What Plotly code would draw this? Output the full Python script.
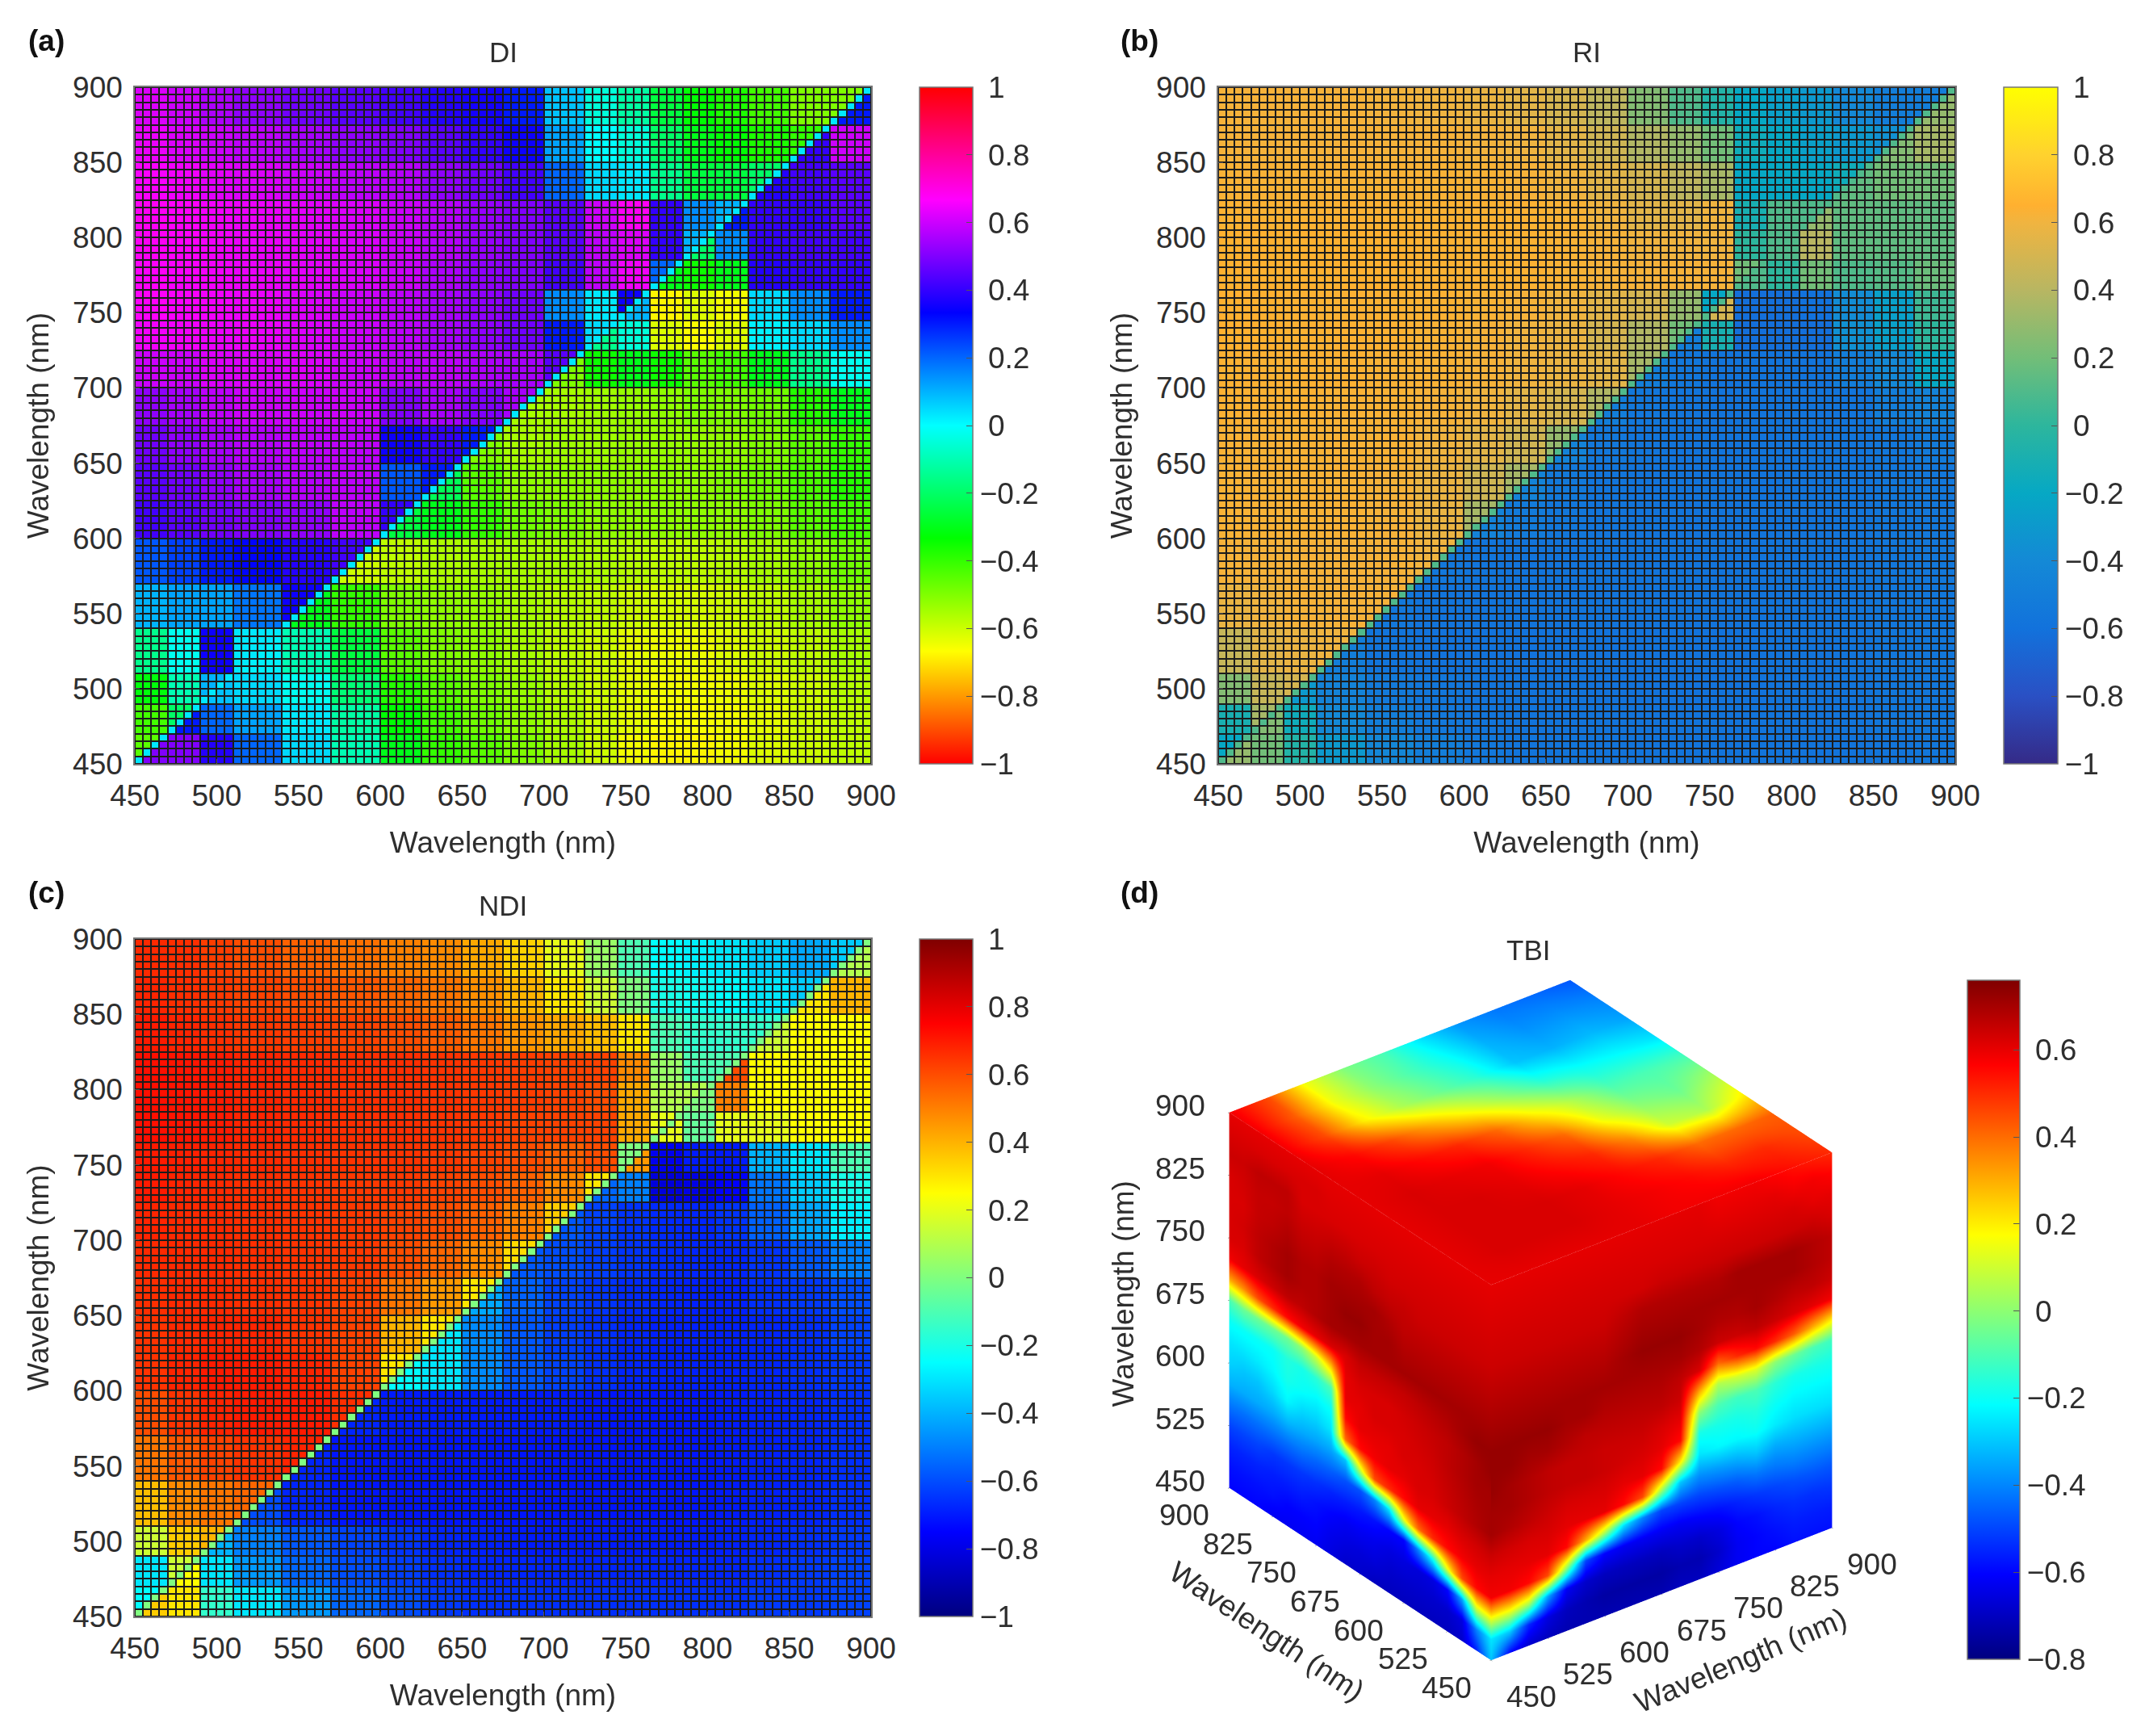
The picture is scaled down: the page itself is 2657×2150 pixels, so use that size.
import numpy as np
import plotly.graph_objects as go

W, H = 2657, 2150
FONT = "Liberation Sans"
INK = "#2e2e2e"
NB = "\u00a0"

EDGES = [450,470,490,510,540,570,600,625,650,675,700,725,745,765,785,805,825,850,875,900]
AXIS_TICKS = [450,500,550,600,650,700,750,800,850,900]
CB_TICKS = [-1,-0.8,-0.6,-0.4,-0.2,0,0.2,0.4,0.6,0.8,1]
CB_LABELS = ["\u22121","\u22120.8","\u22120.6","\u22120.4","\u22120.2",NB+"0",NB+"0.2",NB+"0.4",NB+"0.6",NB+"0.8",NB+"1"]
CUBE_TICKS = [450,525,600,675,750,825,900]
TBI_TICKS = [-0.8,-0.6,-0.4,-0.2,0,0.2,0.4,0.6]
TBI_LABELS = ["\u22120.8","\u22120.6","\u22120.4","\u22120.2",NB+"0",NB+"0.2",NB+"0.4",NB+"0.6"]

DI_DIAG = 0.03
DI_UPPER = [
 [-.45],
 [-.42,-.2],
 [-.32,-.1,.1],
 [-.15,-.02,.35,.03],
 [.1,.12,.12,.18,.35],
 [.22,.25,.3,.33,.38,.42],
 [.42,.45,.48,.5,.52,.58,.4],
 [.45,.48,.52,.55,.57,.58,.22,.3],
 [.48,.52,.55,.57,.58,.58,.35,.4,.3],
 [.52,.55,.58,.6,.6,.6,.5,.55,.5,.55],
 [.6,.6,.62,.62,.62,.6,.58,.58,.56,.55,.45],
 [.65,.65,.64,.64,.62,.6,.58,.55,.52,.48,.3,.05],
 [.67,.66,.65,.64,.62,.6,.58,.55,.52,.48,.15,.03,.35],
 [.67,.66,.65,.64,.63,.62,.6,.56,.52,.5,.42,.58,.65,.2],
 [.68,.67,.65,.64,.63,.62,.6,.57,.53,.5,.45,.58,.62,.4,.1],
 [.68,.67,.65,.64,.63,.62,.6,.57,.53,.5,.45,.6,.68,.4,.15,.1],
 [.66,.65,.63,.62,.6,.58,.57,.52,.48,.42,.2,.05,.03,-.15,-.25,-.25,-.2],
 [.64,.62,.6,.58,.55,.52,.5,.45,.4,.35,.12,.0,-.05,-.2,-.3,-.33,-.37,-.4],
 [.62,.6,.56,.52,.48,.45,.42,.38,.36,.3,.08,-.05,-.12,-.25,-.33,-.37,-.42,-.5,-.5],
]
DI_LOWER = [
 [.5,.5,.38,.2,.05,-.1,-.3,-.4,-.45,-.5,-.55,-.6,-.65,-.68,-.68,-.65,-.62,-.6,-.58],
 [.3,.2,.12,.03,-.12,-.33,-.42,-.48,-.52,-.56,-.6,-.63,-.66,-.66,-.65,-.63,-.6,-.58],
 [.08,.05,-.02,-.18,-.38,-.45,-.5,-.53,-.57,-.6,-.63,-.65,-.65,-.64,-.62,-.6,-.57],
 [.02,-.1,-.25,-.45,-.5,-.52,-.55,-.58,-.6,-.63,-.64,-.64,-.62,-.6,-.58,-.55],
 [-.3,-.4,-.5,-.52,-.53,-.55,-.57,-.58,-.6,-.61,-.61,-.6,-.58,-.55,-.52],
 [-.6,-.58,-.56,-.55,-.55,-.55,-.56,-.57,-.58,-.58,-.57,-.55,-.52,-.48],
 [-.25,-.3,-.4,-.48,-.5,-.52,-.52,-.52,-.52,-.52,-.5,-.45,-.42],
 [-.22,-.45,-.52,-.52,-.52,-.52,-.52,-.52,-.5,-.48,-.43,-.38],
 [-.5,-.55,-.54,-.54,-.53,-.53,-.53,-.52,-.5,-.45,-.4],
 [-.55,-.55,-.54,-.53,-.52,-.5,-.5,-.48,-.38,-.3],
 [-.5,-.35,-.3,-.35,-.45,-.42,-.3,-.15,-.02],
 [-.15,-.05,-.62,-.66,-.62,.02,.05,.15],
 [.1,-.68,-.62,-.65,.05,.15,.3],
 [-.3,-.35,-.3,.38,.4,.4],
 [-.2,.15,.4,.42,.42],
 [.3,.4,.4,.45],
 [.38,.42,.45],
 [.4,.6],
 [.3],
]

RI_DIAG = 0.1
RI_UPPER = [
 [-.2],
 [-.1,.35],
 [.25,.45,.5],
 [.45,.55,.58,.6],
 [.58,.6,.62,.62,.62],
 [.62,.62,.62,.62,.62,.6],
 [.63,.63,.63,.63,.62,.58,.35],
 [.63,.63,.63,.63,.62,.58,.48,.35],
 [.63,.63,.63,.63,.63,.6,.55,.48,.3],
 [.64,.64,.64,.63,.63,.62,.6,.55,.5,.38],
 [.64,.64,.64,.64,.63,.63,.62,.6,.58,.55,.35],
 [.65,.65,.64,.64,.64,.63,.62,.6,.58,.5,.38,.2],
 [.65,.65,.64,.64,.64,.64,.63,.62,.6,.55,.5,.3,-.2],
 [.65,.65,.65,.65,.65,.64,.64,.64,.63,.62,.62,.62,.62,.2],
 [.65,.65,.65,.65,.65,.64,.64,.64,.63,.62,.6,.6,.6,.0,.1],
 [.64,.64,.64,.64,.64,.64,.64,.64,.63,.6,.55,.55,.6,-.1,.1,.1],
 [.63,.63,.63,.63,.63,.63,.63,.62,.6,.55,.5,.42,.35,-.2,-.2,-.2,-.15],
 [.62,.62,.62,.62,.62,.62,.61,.6,.55,.48,.38,.3,.2,-.15,-.2,-.25,-.3,-.35],
 [.62,.62,.62,.62,.61,.6,.58,.55,.5,.42,.25,.1,-.05,-.2,-.25,-.3,-.4,-.5,-.5],
]
RI_LOWER = [
 [.3,.2,-.05,-.3,-.42,-.5,-.55,-.57,-.57,-.58,-.58,-.58,-.58,-.58,-.58,-.58,-.58,-.57,-.56],
 [.25,-.15,-.4,-.5,-.55,-.57,-.58,-.58,-.58,-.58,-.58,-.58,-.58,-.58,-.58,-.57,-.56,-.56],
 [-.3,-.45,-.53,-.56,-.58,-.58,-.58,-.59,-.59,-.59,-.59,-.59,-.58,-.58,-.57,-.56,-.56],
 [-.5,-.57,-.59,-.59,-.59,-.59,-.59,-.59,-.59,-.59,-.59,-.58,-.58,-.57,-.56,-.56],
 [-.55,-.58,-.58,-.58,-.58,-.58,-.58,-.58,-.58,-.58,-.58,-.58,-.57,-.56,-.56],
 [-.55,-.57,-.58,-.58,-.58,-.58,-.58,-.58,-.58,-.58,-.58,-.57,-.56,-.55],
 [-.45,-.52,-.56,-.57,-.58,-.58,-.58,-.58,-.58,-.58,-.57,-.56,-.55],
 [-.45,-.54,-.57,-.58,-.58,-.58,-.58,-.58,-.58,-.57,-.56,-.55],
 [-.45,-.55,-.57,-.58,-.58,-.58,-.58,-.58,-.57,-.56,-.52],
 [-.5,-.56,-.57,-.58,-.58,-.58,-.58,-.57,-.5,-.45],
 [-.5,-.56,-.58,-.58,-.58,-.58,-.5,-.4,-.2],
 [-.5,-.1,-.62,-.62,-.62,-.35,-.25,.0],
 [.5,-.62,-.62,-.6,-.38,-.25,.05],
 [.1,.0,.2,.1,.12,.18],
 [.1,.4,.15,.15,.15],
 [.3,.15,.15,.15],
 [.15,.2,.2],
 [.25,.35],
 [.3],
]

NDI_DIAG = 0.0
NDI_UPPER = [
 [-.25],
 [-.3,.15],
 [.15,.35,.4],
 [.38,.48,.52,.55],
 [.52,.58,.62,.65,.68],
 [.6,.65,.68,.7,.7,.66],
 [.65,.68,.7,.7,.68,.62,.3],
 [.65,.67,.68,.68,.65,.62,.4,.3],
 [.66,.67,.67,.66,.65,.62,.52,.45,.3],
 [.67,.67,.67,.66,.65,.64,.6,.55,.48,.32],
 [.68,.67,.67,.66,.65,.64,.62,.6,.56,.5,.35],
 [.7,.68,.67,.66,.65,.64,.64,.62,.6,.56,.48,.3],
 [.7,.69,.68,.67,.66,.65,.65,.64,.62,.6,.56,.6,.0],
 [.72,.71,.7,.68,.67,.66,.66,.65,.64,.62,.62,.62,.42,.2],
 [.72,.71,.7,.68,.67,.66,.66,.65,.64,.63,.62,.6,.42,.1,.1],
 [.72,.71,.7,.68,.67,.66,.66,.65,.64,.63,.62,.62,.48,.05,-.1,-.1],
 [.7,.68,.66,.64,.63,.62,.6,.57,.52,.46,.42,.38,.3,-.1,-.15,-.15,-.15],
 [.68,.66,.64,.62,.6,.58,.55,.52,.47,.4,.3,.15,.0,-.2,-.22,-.25,-.3,-.35],
 [.67,.66,.63,.6,.56,.53,.5,.48,.42,.34,.2,.05,-.1,-.25,-.28,-.3,-.35,-.42,-.35],
]
NDI_LOWER = [
 [.35,.3,-.15,-.3,-.45,-.55,-.6,-.64,-.66,-.66,-.66,-.66,-.66,-.66,-.66,-.66,-.64,-.64,-.62],
 [.25,-.3,-.45,-.55,-.6,-.63,-.66,-.68,-.68,-.68,-.68,-.68,-.68,-.68,-.68,-.66,-.64,-.62],
 [-.4,-.5,-.58,-.62,-.65,-.68,-.69,-.7,-.7,-.7,-.7,-.7,-.7,-.69,-.68,-.66,-.64],
 [-.6,-.68,-.71,-.71,-.71,-.71,-.71,-.71,-.71,-.71,-.71,-.71,-.7,-.69,-.68,-.66],
 [-.68,-.71,-.71,-.71,-.71,-.71,-.71,-.71,-.71,-.71,-.71,-.7,-.69,-.68,-.66],
 [-.68,-.7,-.7,-.7,-.7,-.7,-.71,-.71,-.71,-.71,-.7,-.69,-.68,-.66],
 [-.25,-.3,-.48,-.58,-.62,-.66,-.68,-.69,-.69,-.69,-.68,-.66,-.64],
 [-.3,-.48,-.58,-.63,-.66,-.68,-.69,-.69,-.69,-.68,-.66,-.62],
 [-.42,-.56,-.62,-.65,-.67,-.68,-.69,-.69,-.66,-.64,-.6],
 [-.58,-.6,-.63,-.65,-.67,-.68,-.68,-.65,-.58,-.5],
 [-.58,-.62,-.65,-.67,-.68,-.65,-.56,-.42,-.28],
 [-.55,-.5,-.82,-.8,-.75,-.52,-.35,-.2],
 [.45,-.78,-.7,-.7,-.4,-.3,-.1],
 [.2,-.05,.2,.2,.25,.25],
 [.0,.5,.25,.25,.25],
 [.6,.25,.25,.25],
 [.15,.25,.25],
 [.3,.4],
 [.1],
]

# TBI cube faces
CUBE_NODES = [450,475,500,525,550,575,600,625,650,675,700,725,750,775,800,825,850,875,900]
TOP_NODES = [450,500,550,600,650,700,750,800,850,900]
TBI_LEFT = [
 [-.3,-.55,-.68,-.7,-.7,-.7,-.7,-.7,-.7,-.68,-.68,-.65,-.62,-.62,-.62,-.62,-.6,-.6,-.6],
 [-.25,-.4,-.65,-.68,-.68,-.68,-.68,-.68,-.66,-.66,-.65,-.63,-.6,-.6,-.6,-.58,-.58,-.58,-.58],
 [.15,.1,-.35,-.6,-.65,-.66,-.65,-.65,-.63,-.62,-.62,-.6,-.58,-.56,-.56,-.56,-.55,-.55,-.55],
 [.58,.55,.45,.15,-.2,-.4,-.6,-.6,-.58,-.57,-.56,-.55,-.53,-.52,-.52,-.52,-.5,-.5,-.5],
 [.6,.6,.58,.55,.5,.4,.15,-.25,-.4,-.48,-.48,-.46,-.45,-.43,-.43,-.43,-.43,-.43,-.42],
 [.64,.63,.62,.6,.6,.6,.55,.5,.45,.1,-.3,-.35,-.35,-.34,-.32,-.34,-.34,-.34,-.33],
 [.7,.68,.66,.64,.62,.62,.6,.6,.58,.55,.4,-.25,-.28,-.27,-.22,-.27,-.3,-.3,-.28],
 [.7,.69,.67,.65,.63,.62,.62,.6,.6,.6,.55,-.2,-.22,-.2,-.18,-.22,-.24,-.25,-.25],
 [.7,.7,.68,.66,.64,.63,.62,.62,.62,.6,.6,-.1,-.15,-.18,-.16,-.2,-.2,-.2,-.2],
 [.72,.7,.68,.66,.65,.64,.63,.62,.62,.62,.6,.25,.1,.0,-.05,-.05,-.05,-.05,-.1],
 [.72,.72,.7,.68,.67,.66,.65,.65,.65,.65,.62,.62,.6,.58,.55,.5,.45,.35,.3],
 [.7,.7,.7,.7,.7,.7,.7,.7,.7,.7,.7,.7,.68,.66,.66,.64,.62,.6,.58],
 [.68,.68,.68,.68,.68,.68,.68,.7,.7,.72,.72,.7,.68,.68,.7,.68,.66,.62,.62],
 [.66,.66,.66,.66,.66,.66,.66,.68,.7,.7,.7,.7,.68,.68,.7,.68,.66,.63,.62],
 [.64,.64,.64,.64,.64,.64,.65,.65,.66,.68,.68,.68,.66,.66,.68,.66,.65,.62,.62],
 [.63,.63,.63,.63,.63,.63,.63,.63,.64,.64,.65,.65,.64,.64,.66,.65,.65,.63,.62],
 [.62,.62,.62,.62,.62,.62,.62,.62,.62,.62,.62,.62,.62,.62,.66,.66,.66,.64,.64],
 [.61,.61,.61,.61,.61,.61,.61,.61,.61,.61,.61,.61,.62,.62,.62,.62,.62,.62,.62],
 [.6,.6,.6,.6,.6,.6,.6,.6,.6,.6,.6,.6,.6,.6,.6,.6,.6,.6,.6],
]
TBI_RIGHT = [
 [-.3,-.6,-.68,-.7,-.72,-.72,-.72,-.72,-.72,-.72,-.7,-.7,-.66,-.62,-.6,-.6,-.58,-.58,-.58],
 [-.25,-.3,-.55,-.65,-.7,-.72,-.74,-.74,-.74,-.74,-.72,-.72,-.68,-.62,-.6,-.58,-.56,-.56,-.56],
 [.15,.15,.05,-.35,-.62,-.68,-.7,-.7,-.7,-.7,-.68,-.68,-.65,-.6,-.58,-.55,-.53,-.53,-.52],
 [.58,.58,.55,.45,.0,-.5,-.6,-.62,-.62,-.62,-.62,-.6,-.58,-.55,-.52,-.5,-.48,-.47,-.47],
 [.6,.6,.6,.6,.55,.3,.05,-.25,-.4,-.5,-.5,-.5,-.48,-.46,-.42,-.42,-.4,-.4,-.4],
 [.64,.63,.62,.62,.6,.6,.6,.55,.45,.05,-.3,-.38,-.36,-.34,-.3,-.34,-.33,-.33,-.33],
 [.7,.68,.66,.64,.62,.62,.62,.6,.6,.55,.2,-.25,-.22,-.22,-.2,-.24,-.26,-.26,-.26],
 [.7,.7,.68,.66,.65,.65,.64,.63,.62,.6,.55,-.18,-.18,-.18,-.16,-.2,-.22,-.22,-.22],
 [.72,.7,.68,.66,.65,.65,.64,.64,.64,.62,.6,.0,-.1,-.12,-.1,-.15,-.18,-.18,-.18],
 [.72,.72,.7,.7,.68,.66,.66,.66,.66,.66,.64,.3,.05,.1,.12,.0,-.05,-.1,-.12],
 [.72,.72,.72,.72,.7,.7,.68,.68,.68,.68,.66,.62,.4,.5,.55,.5,.42,.3,.2],
 [.7,.7,.7,.7,.7,.7,.7,.7,.7,.7,.7,.68,.64,.64,.66,.64,.62,.6,.58],
 [.68,.68,.68,.68,.68,.68,.68,.7,.72,.72,.72,.7,.68,.68,.7,.68,.66,.66,.64],
 [.66,.66,.66,.66,.66,.66,.66,.68,.7,.7,.7,.7,.7,.7,.7,.7,.7,.68,.66],
 [.64,.64,.64,.64,.64,.64,.64,.66,.68,.68,.68,.68,.68,.7,.7,.7,.7,.68,.66],
 [.63,.63,.63,.63,.63,.63,.63,.63,.63,.64,.64,.64,.64,.64,.64,.64,.64,.64,.62],
 [.62,.62,.62,.62,.62,.62,.62,.62,.62,.62,.62,.62,.62,.62,.62,.62,.62,.6,.6],
 [.61,.61,.61,.61,.61,.61,.61,.61,.61,.61,.61,.61,.6,.6,.6,.6,.58,.58,.56],
 [.6,.6,.6,.6,.6,.6,.6,.6,.6,.6,.6,.6,.58,.58,.58,.56,.54,.52,.5],
]
TBI_TOP = [
 [.6,.6,.6,.6,.6,.58,.58,.58,.54,.5],
 [.6,.62,.62,.62,.6,.58,.55,.5,.5,.45],
 [.6,.62,.62,.62,.6,.55,.5,.4,.4,.42],
 [.6,.62,.62,.6,.55,.5,.35,.1,.05,.2],
 [.6,.62,.6,.58,.5,.4,.15,.0,-.05,.05],
 [.6,.6,.55,.5,.4,.2,.05,-.1,-.1,-.1],
 [.6,.55,.45,.3,.15,.0,-.15,-.2,-.22,-.25],
 [.58,.45,.2,.05,-.05,-.15,-.3,-.33,-.32,-.35],
 [.58,.42,.15,.0,-.1,-.2,-.33,-.38,-.38,-.4],
 [.58,.45,.15,-.02,-.1,-.25,-.37,-.42,-.44,-.47],
]

HSV = [[0,"#ff0000"],[1/6,"#ffff00"],[1/3,"#00ff00"],[.5,"#00ffff"],[2/3,"#0000ff"],[5/6,"#ff00ff"],[1,"#ff0000"]]
PARULA = [[0,"#352A87"],[.1,"#2A50C4"],[.2,"#1272DC"],[.3,"#1489D6"],[.4,"#06A8C4"],[.5,"#2DB69D"],[.6,"#72BE78"],
          [.7,"#B8B662"],[.8,"#F0B440"],[.825,"#FFB030"],[.9,"#FFD22E"],[1,"#FFFF00"]]
JET = [[0,"#00007F"],[.125,"#0000FF"],[.375,"#00FFFF"],[.625,"#FFFF00"],[.875,"#FF0000"],[1,"#7F0000"]]

def fx(p): return p / W
def fy(p): return 1 - p / H

def assemble(upper, lower, diag):
    centers = [452.5 + 5 * k for k in range(90)]
    idx = [int(np.searchsorted(EDGES, c, side="right")) - 1 for c in centers]
    z = []
    for j in range(90):
        row = []
        for i in range(90):
            if i == j:
                row.append(diag)
            elif i < j:
                row.append(upper[idx[j]][idx[i]])
            else:
                row.append(lower[idx[j]][idx[i] - idx[j]])
        z.append(row)
    return centers, z

FS = 37
fig = go.Figure()
panels = [
 ("", "", 167, 1079, 108, 946, 1139, 1205, DI_UPPER, DI_LOWER, DI_DIAG, HSV),
 ("2", "2", 1509, 2422, 108, 946, 2482, 2549, RI_UPPER, RI_LOWER, RI_DIAG, PARULA),
 ("3", "3", 167, 1079, 1163, 2002, 1139, 1205, NDI_UPPER, NDI_LOWER, NDI_DIAG, JET),
]
layout = {}
for sx, sy, x0, x1, y0, y1, c0, c1, up, lo_, dg, cs in panels:
    cen, z = assemble(up, lo_, dg)
    fig.add_trace(go.Heatmap(
        x=cen, y=cen, z=z, zmin=-1, zmax=1, colorscale=cs, xgap=2, ygap=2,
        xaxis="x" + sx, yaxis="y" + sy, hoverinfo="skip",
        colorbar=dict(x=fx(c0), xanchor="left", xref="paper", y=fy(y1), yanchor="bottom", yref="paper",
                      lenmode="fraction", len=(y1 - y0) / H, thicknessmode="pixels", thickness=c1 - c0,
                      xpad=0, ypad=0, outlinecolor="#777", outlinewidth=1.5, tickvals=CB_TICKS, ticktext=CB_LABELS,
                      ticks="inside", ticklen=8, tickcolor="#555", tickfont=dict(family=FONT, size=FS, color=INK)),
    ))
    ax = dict(range=[450, 900], tickvals=AXIS_TICKS, ticks="inside", ticklen=6, tickcolor="#555",
              showgrid=False, zeroline=False, showline=True, linecolor="#777", linewidth=1.5, mirror=True,
              tickfont=dict(family=FONT, size=FS, color=INK), ticklabelstandoff=6,
              title=dict(text="Wavelength (nm)", font=dict(family=FONT, size=FS, color=INK)))
    layout["xaxis" + sx] = dict(ax, domain=[fx(x0), fx(x1)], anchor="y" + sy)
    layout["xaxis" + sx]["title"] = dict(ax["title"], standoff=25)
    layout["yaxis" + sy] = dict(ax, domain=[fy(y1), fy(y0)], anchor="x" + sx)
    layout["yaxis" + sy]["title"] = dict(ax["title"], standoff=18)

# TBI cube: three visible faces
lo, hi = CUBE_NODES[0], CUBE_NODES[-1]
surf = dict(cmin=-0.8, cmax=0.76, colorscale=JET, hoverinfo="skip",
            lighting=dict(ambient=1, diffuse=0, specular=0, roughness=1, fresnel=0),
            scene="scene")
Yg, Zg = np.meshgrid(CUBE_NODES, CUBE_NODES)
fig.add_trace(go.Surface(x=np.full(Yg.shape, lo), y=Yg, z=Zg, surfacecolor=TBI_LEFT, showscale=True,
    colorbar=dict(x=fx(2437), xanchor="left", xref="paper", y=fy(2055), yanchor="bottom", yref="paper",
                  lenmode="fraction", len=(2055 - 1214) / H, thicknessmode="pixels", thickness=65,
                  xpad=0, ypad=0, outlinecolor="#777", outlinewidth=1.5, tickvals=TBI_TICKS, ticktext=TBI_LABELS,
                  ticks="inside", ticklen=8, tickcolor="#555", tickfont=dict(family=FONT, size=FS, color=INK)),
    **surf))
Xg, Zg2 = np.meshgrid(CUBE_NODES, CUBE_NODES)
fig.add_trace(go.Surface(x=Xg, y=np.full(Xg.shape, lo), z=Zg2, surfacecolor=TBI_RIGHT, showscale=False, **surf))
Xt, Yt = np.meshgrid(TOP_NODES, TOP_NODES)
fig.add_trace(go.Surface(x=Xt, y=Yt, z=np.full(Xt.shape, hi), surfacecolor=TBI_TOP, showscale=False, **surf))

scene_ax = dict(range=[lo, hi], tickvals=CUBE_TICKS, showgrid=False, zeroline=False, showbackground=False,
                showline=False, ticks="outside", ticklen=2, tickcolor="#555", showspikes=False,
                showticklabels=False, title=dict(text=""))
tfont = dict(family=FONT, size=FS, color=INK)
scene_notes = []
mid = CUBE_TICKS[3]
for t in CUBE_TICKS:
    scene_notes.append(dict(x=t, y=lo, z=lo, text=str(t), showarrow=False, xshift=50, yshift=-45, font=tfont))
    scene_notes.append(dict(x=lo, y=t, z=lo, text=str(t), showarrow=False, xshift=-55, yshift=-34, font=tfont))
    scene_notes.append(dict(x=lo, y=hi, z=t, text=str(t), showarrow=False, xshift=-60, yshift=8, font=tfont))
scene_notes.append(dict(x=mid, y=lo, z=lo, text="Wavelength (nm)", showarrow=False, xshift=98, yshift=-82, textangle=-22.7, font=tfont))
scene_notes.append(dict(x=lo, y=mid, z=lo, text="Wavelength (nm)", showarrow=False, xshift=-115, yshift=-71, textangle=33.6, font=tfont))
scene_notes.append(dict(x=lo, y=hi, z=mid, text="Wavelength (nm)", showarrow=False, xshift=-131, yshift=8, textangle=-90, font=tfont))

CX, CY, SZ = 1895.5, 1635, 1000
R = 1.84
layout["scene"] = dict(
    domain=dict(x=[fx(CX - SZ / 2), fx(CX + SZ / 2)], y=[fy(CY + SZ / 2), fy(CY - SZ / 2)]),
    aspectmode="manual", aspectratio=dict(x=1.065, y=1.065, z=1.078),
    xaxis=scene_ax, yaxis=scene_ax, zaxis=scene_ax, annotations=scene_notes,
    camera=dict(eye=dict(x=-.5258 * R, y=-.6844 * R, z=.506 * R), center=dict(x=0, y=0, z=0),
                up=dict(x=0, y=0, z=1), projection=dict(type="orthographic")),
)

labels = [("(a)", 33, 50, True), ("(b)", 1386, 50, True), ("(c)", 33, 1105, True), ("(d)", 1386, 1105, True),
          ("DI", 623, 65, False), ("RI", 1965, 65, False), ("NDI", 623, 1121, False), ("TBI", 1893, 1176, False)]
notes = []
for t, px, py, bold in labels:
    notes.append(dict(text="<b>%s</b>" % t if bold else t, x=fx(px), y=fy(py), xref="paper", yref="paper",
                      xanchor="left" if bold else "center", yanchor="middle", showarrow=False,
                      font=dict(family=FONT, size=37 if bold else 35, color="#111" if bold else INK)))

fig.update_layout(width=W, height=H, margin=dict(l=0, r=0, t=0, b=0, autoexpand=False), autosize=False,
                  paper_bgcolor="white", plot_bgcolor="#1c1c1c", annotations=notes, showlegend=False, **layout)
fig.write_html("out.html", config=dict(displayModeBar=False), post_script="document.body.style.margin='0';")
